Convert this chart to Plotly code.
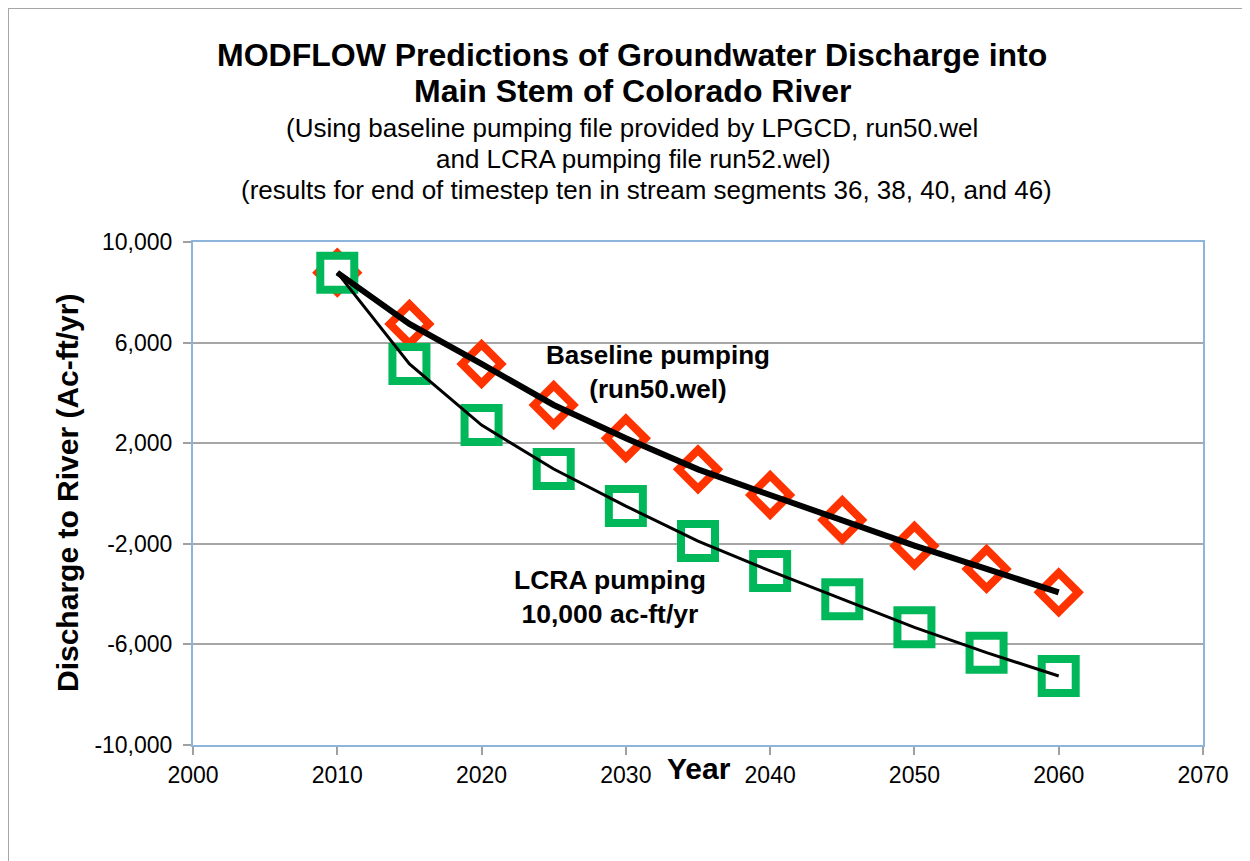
import plotly.graph_objects as go

years = [2010, 2015, 2020, 2025, 2030, 2035, 2040, 2045, 2050, 2055, 2060]
baseline = [8780, 6740, 5150, 3520, 2195, 960, -60, -1055, -2075, -3000, -3930]
lcra = [8780, 5150, 2720, 975, -500, -1890, -3080, -4205, -5320, -6330, -7255]

y_ticks = [10000, 6000, 2000, -2000, -6000, -10000]
y_tick_labels = ["10,000", "6,000", "2,000", "-2,000", "-6,000", "-10,000"]
x_ticks = [2000, 2010, 2020, 2030, 2040, 2050, 2060, 2070]

title_lines = [
    "MODFLOW Predictions of Groundwater Discharge into",
    "Main Stem of Colorado River",
]
subtitle_lines = [
    "(Using baseline pumping file provided by LPGCD, run50.wel",
    "and LCRA pumping file run52.wel)",
    "(results for end of timestep ten in stream segments 36, 38, 40, and 46)",
]

FONT = "Arial, Liberation Sans, sans-serif"
OFF = 8  # page body margin offset
W, H = 1250 - OFF, 861 - OFF
L, T = 193 - OFF, 242 - OFF
R = W - (1203 - OFF)
B = H - (745 - OFF)
PW, PH = W - L - R, H - T - B


def px(x):
    return (x - OFF - L) / PW


def py(y):
    return (H - B - (y - OFF)) / PH


RED = "#FF3300"
GREEN = "#00B85A"

fig = go.Figure()
fig.add_trace(go.Scatter(
    x=years, y=baseline, mode="markers", showlegend=False,
    marker=dict(symbol="diamond", size=30, color="white", line=dict(width=8, color=RED)),
))
fig.add_trace(go.Scatter(
    x=years, y=lcra, mode="markers", showlegend=False,
    marker=dict(symbol="square", size=34, color="white", line=dict(width=8, color=GREEN)),
))
fig.add_trace(go.Scatter(
    x=years, y=baseline, mode="lines", showlegend=False,
    line=dict(color="black", width=6),
))
fig.add_trace(go.Scatter(
    x=years, y=lcra, mode="lines", showlegend=False,
    line=dict(color="black", width=3),
))

annotations = []
for text, ycen in zip(title_lines, [55, 91]):
    annotations.append(dict(text=f"<b>{text}</b>", xref="paper", yref="paper",
                            x=px(632), y=py(ycen), xanchor="center", yanchor="middle",
                            showarrow=False, font=dict(family=FONT, size=32, color="black")))
for text, ycen, xc in zip(subtitle_lines, [128, 159, 190], [632, 633, 646]):
    annotations.append(dict(text=text, xref="paper", yref="paper",
                            x=px(xc), y=py(ycen), xanchor="center", yanchor="middle",
                            showarrow=False, font=dict(family=FONT, size=26, color="black")))

annotations.append(dict(text="<b>Discharge to River (Ac-ft/yr)</b>", xref="paper", yref="paper",
                        x=px(67), y=py(493), xanchor="center", yanchor="middle", textangle=-90,
                        showarrow=False, font=dict(family=FONT, size=30, color="black")))
annotations.append(dict(text="<b>Year</b>", xref="paper", yref="paper",
                        x=px(699), y=py(768), xanchor="center", yanchor="middle",
                        showarrow=False, font=dict(family=FONT, size=30, color="black")))
annotations.append(dict(text="<b>Baseline pumping<br>(run50.wel)</b>", xref="paper", yref="paper",
                        x=px(658), y=py(372), xanchor="center", yanchor="middle",
                        showarrow=False, font=dict(family=FONT, size=26, color="black")))
annotations.append(dict(text="<b>LCRA pumping<br>10,000 ac-ft/yr</b>", xref="paper", yref="paper",
                        x=px(610), y=py(597), xanchor="center", yanchor="middle",
                        showarrow=False, font=dict(family=FONT, size=26.5, color="black")))

shapes = [dict(type="rect", xref="paper", yref="paper",
               x0=px(8), x1=px(1262), y0=py(875), y1=py(8),
               line=dict(color="#A6A6A6", width=2), fillcolor="rgba(0,0,0,0)", layer="below")]

fig.update_layout(
    width=W, height=H,
    margin=dict(l=L, r=R, t=T, b=B, autoexpand=False),
    paper_bgcolor="white", plot_bgcolor="white",
    font=dict(family=FONT, size=23, color="black"),
    annotations=annotations, shapes=shapes,
    xaxis=dict(range=[2000, 2070], tickvals=x_ticks, ticks="outside", ticklen=8,
               tickcolor="#A0A0A0", tickwidth=1.5, showgrid=False, zeroline=False,
               showline=True, linecolor="#8DB4DA", linewidth=2, mirror=True,
               tickfont=dict(family=FONT, size=23, color="black")),
    yaxis=dict(range=[-10000, 10000], tickvals=y_ticks, ticktext=y_tick_labels,
               ticks="outside", ticklen=8, tickcolor="#A0A0A0", tickwidth=1.5,
               showgrid=True, gridcolor="#A6A6A6", gridwidth=1.5, zeroline=False,
               showline=True, linecolor="#8DB4DA", linewidth=2, mirror=True,
               ticklabelstandoff=6,
               tickfont=dict(family=FONT, size=23, color="black")),
)

fig.write_html("out.html")
